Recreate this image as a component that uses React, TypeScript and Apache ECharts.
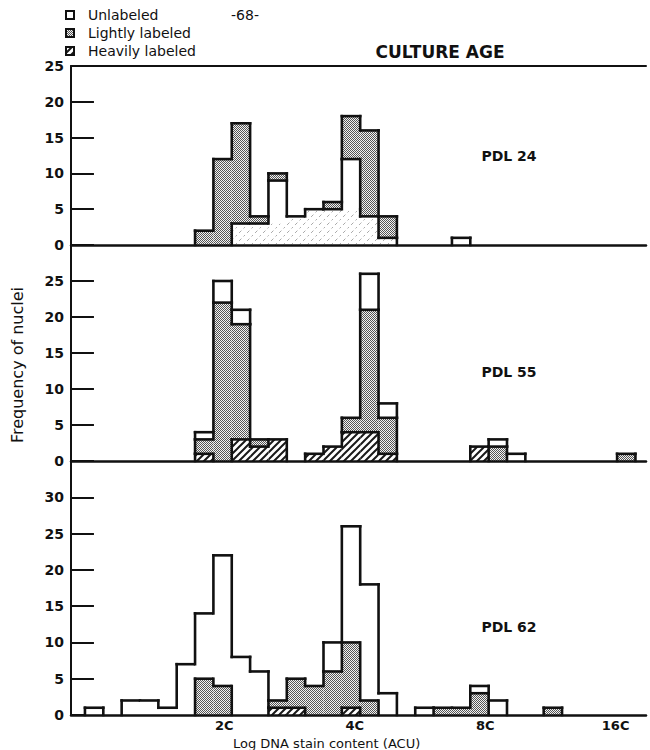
import React, { useEffect, useRef } from "react";
import * as echarts from "echarts";

const FONT = '"DejaVu Sans", sans-serif';
const INK = "#111";

// Histogram bins on a log2(DNA content / 1C) scale
const BIN_START = -0.069; // left edge of bin 0
const BIN_WIDTH = 0.1407;
const BIN_COUNT = 31; // last bin is always empty and closes the outline
const X_MIN = -0.176;
const X_MAX = 4.233;
const PLOIDY_POSITIONS = [1, 2, 3, 4]; // 2C, 4C, 8C, 16C

const FREQ_MAX = [25, 30, 35];
const PANEL_LABELS = ["PDL 24", "PDL 55", "PDL 62"];
const LEGEND_ITEMS = ["Unlabeled", "Lightly labeled", "Heavily labeled"];

// Nuclei counts per bin (bins 0..29)
const heavy24 = [0, 0, 0, 0, 0, 0, 0, 0, 3, 3, 3, 4, 5, 5, 5, 4, 1, 0, 0, 0, 0, 0, 0, 0, 0, 0, 0, 0, 0, 0];
const light24 = [0, 0, 0, 0, 0, 0, 2, 12, 14, 1, 1, 0, 0, 1, 6, 12, 3, 0, 0, 0, 0, 0, 0, 0, 0, 0, 0, 0, 0, 0];
const unlabeled24 = [0, 0, 0, 0, 0, 0, 0, 0, 0, 0, 6, 0, 0, 0, 7, 0, 0, 0, 0, 0, 1, 0, 0, 0, 0, 0, 0, 0, 0, 0];

const heavy55 = [0, 0, 0, 0, 0, 0, 1, 0, 3, 2, 3, 0, 1, 2, 4, 4, 1, 0, 0, 0, 0, 2, 0, 0, 0, 0, 0, 0, 0, 0];
const light55 = [0, 0, 0, 0, 0, 0, 2, 22, 16, 1, 0, 0, 0, 0, 2, 17, 5, 0, 0, 0, 0, 0, 2, 0, 0, 0, 0, 0, 0, 1];
const unlabeled55 = [0, 0, 0, 0, 0, 0, 1, 3, 2, 0, 0, 0, 0, 0, 0, 5, 2, 0, 0, 0, 0, 0, 1, 1, 0, 0, 0, 0, 0, 0];

const heavy62 = [0, 0, 0, 0, 0, 0, 0, 0, 0, 0, 1, 1, 0, 0, 1, 0, 0, 0, 0, 0, 0, 0, 0, 0, 0, 0, 0, 0, 0, 0];
const light62 = [0, 0, 0, 0, 0, 0, 5, 4, 0, 0, 1, 4, 4, 6, 9, 2, 0, 0, 0, 1, 1, 3, 0, 0, 0, 1, 0, 0, 0, 0];
const unlabeled62 = [1, 0, 2, 2, 1, 7, 9, 18, 8, 6, 0, 0, 0, 4, 16, 16, 3, 0, 1, 0, 0, 1, 2, 0, 0, 0, 0, 0, 0, 0];

type Cat = "heavy" | "light" | "unlabeled";
type Seg = { cat: Cat; y0: number; y1: number };

function buildColumns(byCat: Record<Cat, number[]>, order: Cat[]): Seg[][] {
  const cols: Seg[][] = [];
  for (let k = 0; k < BIN_COUNT; k++) {
    let base = 0;
    const segs: Seg[] = [];
    for (const cat of order) {
      const n = byCat[cat][k] ?? 0;
      if (n > 0) {
        segs.push({ cat, y0: base, y1: base + n });
        base += n;
      }
    }
    cols.push(segs);
  }
  return cols;
}

function catAt(col: Seg[] | undefined, y: number): Cat | null {
  if (!col) return null;
  for (const s of col) if (y >= s.y0 && y < s.y1) return s.cat;
  return null;
}

function makeTile(size: number, draw: (ctx: CanvasRenderingContext2D) => void) {
  const c = document.createElement("canvas");
  c.width = size;
  c.height = size;
  const ctx = c.getContext("2d")!;
  draw(ctx);
  return c;
}

function makeRenderItem(cols: Seg[][], softHeavy: boolean, fills: Record<Cat, any>) {
  // In the youngest culture the heavily labeled zone has no drawn border against unlabeled nuclei
  const same = (a: Cat | null, b: Cat | null) =>
    a === b || (softHeavy && a !== null && b !== null && a !== "light" && b !== "light");
  const line = (p: number[], q: number[]) => ({
    type: "line",
    shape: { x1: p[0], y1: p[1], x2: q[0], y2: q[1] },
    style: { stroke: INK, lineWidth: 2.6, lineCap: "square" },
  });
  return (_params: any, api: any) => {
    const k = api.value(2) as number;
    const col = cols[k];
    const xa = BIN_START + k * BIN_WIDTH;
    const xb = xa + BIN_WIDTH;
    const rects: any[] = [];
    const lines: any[] = [];
    for (const s of col) {
      const p = api.coord([xa, s.y1]);
      const q = api.coord([xb, s.y0]);
      rects.push({
        type: "rect",
        shape: { x: p[0], y: p[1], width: q[0] - p[0], height: q[1] - p[1] },
        style: { fill: fills[s.cat] },
      });
      const above = catAt(col, s.y1 + 1e-6);
      if (!same(s.cat, above)) lines.push(line(api.coord([xa, s.y1]), api.coord([xb, s.y1])));
    }
    const left = cols[k - 1];
    const ys = new Set<number>([0]);
    for (const s of [...(left || []), ...col]) {
      ys.add(s.y0);
      ys.add(s.y1);
    }
    const sorted = [...ys].sort((a, b) => a - b);
    for (let i = 0; i < sorted.length - 1; i++) {
      const a = sorted[i];
      const b = sorted[i + 1];
      const m = (a + b) / 2;
      if (!same(catAt(left, m), catAt(col, m))) lines.push(line(api.coord([xa, a]), api.coord([xa, b])));
    }
    return { type: "group", children: [...rects, ...lines] };
  };
}

export default function App() {
  const ref = useRef<HTMLDivElement>(null);

  useEffect(() => {
    if (!ref.current) return;
    const chart = echarts.init(ref.current, undefined, { renderer: "svg" });

    const stippleTile = makeTile(4, (ctx) => {
      ctx.fillStyle = "#f2f2f2";
      ctx.fillRect(0, 0, 4, 4);
      ctx.fillStyle = "#555";
      for (let y = 0; y < 4; y++) for (let x = 0; x < 4; x++) if ((x + y) % 2 === 0) ctx.fillRect(x, y, 1, 1);
    });
    const hatchTile = makeTile(7, (ctx) => {
      ctx.fillStyle = "#fff";
      ctx.fillRect(0, 0, 7, 7);
      ctx.strokeStyle = "#1a1a1a";
      ctx.lineWidth = 2;
      ctx.beginPath();
      ctx.moveTo(-1, 8);
      ctx.lineTo(8, -1);
      ctx.moveTo(-4.5, 4.5);
      ctx.lineTo(4.5, -4.5);
      ctx.moveTo(2.5, 11.5);
      ctx.lineTo(11.5, 2.5);
      ctx.stroke();
    });
    const faintTile = makeTile(8, (ctx) => {
      ctx.fillStyle = "#fff";
      ctx.fillRect(0, 0, 8, 8);
      ctx.strokeStyle = "#a8a8a8";
      ctx.lineWidth = 1;
      ctx.setLineDash([2, 3]);
      ctx.beginPath();
      ctx.moveTo(0, 8);
      ctx.lineTo(8, 0);
      ctx.stroke();
    });
    const pattern = (c: HTMLCanvasElement) => ({
      image: c,
      repeat: "repeat",
      imageWidth: c.width,
      imageHeight: c.height,
    });
    const stipple = pattern(stippleTile);
    const hatch = pattern(hatchTile);
    const faint = pattern(faintTile);

    const panels = [
      {
        cols: buildColumns({ heavy: heavy24, light: light24, unlabeled: unlabeled24 }, ["heavy", "unlabeled", "light"]),
        soft: true,
        fills: { heavy: faint, light: stipple, unlabeled: "#fff" },
      },
      {
        cols: buildColumns({ heavy: heavy55, light: light55, unlabeled: unlabeled55 }, ["heavy", "light", "unlabeled"]),
        soft: false,
        fills: { heavy: hatch, light: stipple, unlabeled: "#fff" },
      },
      {
        cols: buildColumns({ heavy: heavy62, light: light62, unlabeled: unlabeled62 }, ["heavy", "light", "unlabeled"]),
        soft: false,
        fills: { heavy: hatch, light: stipple, unlabeled: "#fff" },
      },
    ];

    const grids = [
      { left: 71, right: 4, top: 66, height: 179 },
      { left: 71, right: 4, top: 245, height: 216 },
      { left: 71, right: 4, top: 461, height: 254 },
    ];

    const xAxes: any[] = grids.map((_, i) => ({
      gridIndex: i,
      type: "value",
      min: X_MIN,
      max: X_MAX,
      z: 5,
      axisLine: { show: true, onZero: false, lineStyle: { color: INK, width: 2.5 } },
      axisTick: { show: false },
      splitLine: { show: false },
      axisLabel:
        i === 2
          ? {
              customValues: PLOIDY_POSITIONS,
              formatter: (v: number) => `${Math.round(2 ** v)}C`,
              fontFamily: FONT,
              fontWeight: "bold",
              fontSize: 13,
              color: INK,
              margin: 4,
            }
          : { show: false },
    }));
    // frame line along the top of the first panel
    xAxes.push({
      gridIndex: 0,
      type: "value",
      position: "top",
      min: X_MIN,
      max: X_MAX,
      axisLine: { show: true, onZero: false, lineStyle: { color: INK, width: 2 } },
      axisTick: { show: false },
      axisLabel: { show: false },
      splitLine: { show: false },
    });

    const leftAxes = grids.map((_, i) => ({
      gridIndex: i,
      type: "value",
      min: 0,
      max: FREQ_MAX[i],
      interval: 5,
      axisLine: { show: true, onZero: false, lineStyle: { color: INK, width: 2 } },
      axisTick: { show: true, inside: true, length: 13, lineStyle: { color: INK, width: 2 } },
      splitLine: { show: false },
      axisLabel: {
        showMaxLabel: i === 0,
        fontFamily: FONT,
        fontWeight: "bold",
        fontSize: 14,
        color: INK,
        margin: 7,
      },
    }));
    const rightAxes = grids.map((_, i) => ({
      gridIndex: i,
      type: "value",
      position: "right",
      min: 0,
      max: FREQ_MAX[i],
      interval: 5,
      axisLine: { show: false },
      axisTick: { show: true, inside: true, length: 11, lineStyle: { color: INK, width: 2 } },
      splitLine: { show: false },
      axisLabel: { show: false },
    }));

    const series = panels.map((p, i) => ({
      type: "custom",
      xAxisIndex: i,
      yAxisIndex: i,
      silent: true,
      renderItem: makeRenderItem(p.cols, p.soft, p.fills as any),
      encode: { x: 0, y: 1 },
      data: p.cols.map((col, k) => [
        BIN_START + (k + 0.5) * BIN_WIDTH,
        col.length ? col[col.length - 1].y1 : 0,
        k,
      ]),
    }));

    const legendFills = ["#fff", stipple, hatch];
    const legend: any[] = [];
    LEGEND_ITEMS.forEach((name, i) => {
      const cy = 15 + i * 18;
      legend.push({
        type: "rect",
        shape: { x: 66, y: cy - 4, width: 8, height: 8 },
        style: { fill: legendFills[i], stroke: INK, lineWidth: 2 },
      });
      legend.push({
        type: "text",
        x: 88,
        y: cy,
        style: { text: name, fontFamily: FONT, fontSize: 14, fill: INK, align: "left", verticalAlign: "middle" },
      });
    });

    const panelLabelY = [156, 372, 627];
    const texts: any[] = [
      {
        type: "text",
        x: 245,
        y: 15,
        style: { text: "-68-", fontFamily: FONT, fontSize: 14, fill: INK, align: "center", verticalAlign: "middle" },
      },
      {
        type: "text",
        x: 440,
        y: 52,
        style: {
          text: "CULTURE AGE",
          fontFamily: FONT,
          fontWeight: "bold",
          fontSize: 17,
          fill: INK,
          align: "center",
          verticalAlign: "middle",
        },
      },
      ...PANEL_LABELS.map((t, i) => ({
        type: "text",
        x: 509,
        y: panelLabelY[i],
        style: {
          text: t,
          fontFamily: FONT,
          fontWeight: "bold",
          fontSize: 14,
          fill: INK,
          align: "center",
          verticalAlign: "middle",
        },
      })),
      {
        type: "text",
        x: 17,
        y: 365,
        rotation: Math.PI / 2,
        style: {
          text: "Frequency of nuclei",
          fontFamily: FONT,
          fontSize: 16,
          fill: INK,
          align: "center",
          verticalAlign: "middle",
        },
      },
      {
        type: "text",
        x: 233,
        y: 743,
        style: {
          text: "Log DNA stain content (ACU)",
          fontFamily: FONT,
          fontSize: 13,
          fill: INK,
          align: "left",
          verticalAlign: "middle",
        },
      },
    ];

    chart.setOption({
      animation: false,
      backgroundColor: "#fff",
      grid: grids,
      xAxis: xAxes,
      yAxis: [...leftAxes, ...rightAxes],
      series,
      graphic: [...legend, ...texts],
    });

    return () => chart.dispose();
  }, []);

  return <div ref={ref} style={{ position: "absolute", left: 0, top: 0, width: 650, height: 750 }} />;
}
